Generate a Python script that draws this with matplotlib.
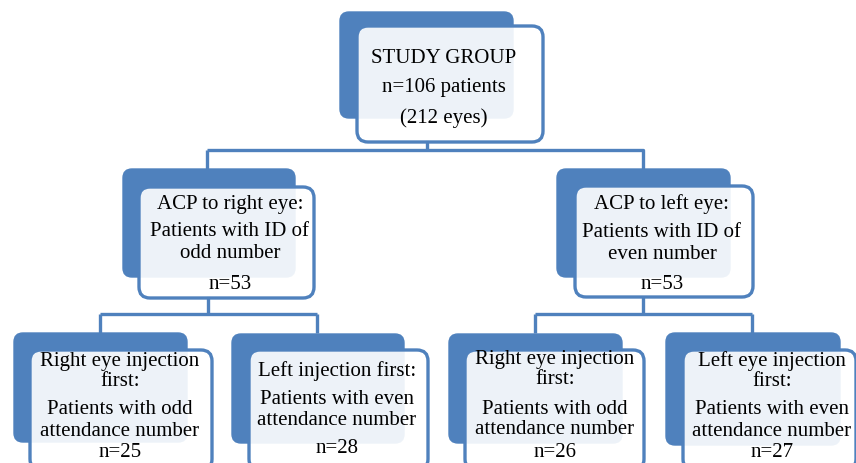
import matplotlib

matplotlib.use("AGG")
from matplotlib import pyplot
from matplotlib.patches import FancyBboxPatch

BLUE = "#4f81bd"

# node texts
top_lines = ["STUDY GROUP", "n=106 patients", "(212 eyes)"]
mid_left_lines = ["ACP to right eye:", "Patients with ID of", "odd number", "n=53"]
mid_right_lines = ["ACP to left eye:", "Patients with ID of", "even number", "n=53"]
bl_lines = ["Right eye injection", "first:", "Patients with odd", "attendance number", "n=25"]
bml_lines = ["Left injection first:", "Patients with even", "attendance number", "n=28"]
bmr_lines = ["Right eye injection", "first:", "Patients with odd", "attendance number", "n=26"]
br_lines = ["Left eye injection", "first:", "Patients with even", "attendance number", "n=27"]


def node(ax, back, front, lines, xc, baselines):
    bx0, by0, bx1, by1 = back
    fx0, fy0, fx1, fy1 = front
    ax.add_patch(FancyBboxPatch((bx0, by0), bx1 - bx0, by1 - by0,
                                boxstyle="round,pad=0,rounding_size=9",
                                fc=BLUE, ec=BLUE, lw=1, zorder=2))
    ax.add_patch(FancyBboxPatch((fx0, fy0), fx1 - fx0, fy1 - fy0,
                                boxstyle="round,pad=0,rounding_size=11",
                                fc=(1, 1, 1, 0.9), ec=BLUE, lw=2.4, zorder=3))
    for txt, yb in zip(lines, baselines):
        ax.text(xc, yb, txt, ha="center", va="baseline", fontsize=15,
                family="Liberation Serif", color="black", zorder=4)


def line(ax, xs, ys):
    ax.plot(xs, ys, color=BLUE, lw=2.4, solid_capstyle="butt", zorder=1)


f = pyplot.figure(figsize=(8.56, 4.63), dpi=100)
ax = f.add_axes([0, 0, 1, 1])
ax.set_xlim(0, 856)
ax.set_ylim(463, 0)
ax.axis("off")

# connectors
line(ax, [427, 427], [140, 150])
line(ax, [207, 643, 643], [150, 150, 169])
line(ax, [207, 207], [150, 169])
line(ax, [208, 208], [296, 314])
line(ax, [100, 317], [314, 314])
line(ax, [100, 100], [314, 333])
line(ax, [317, 317], [314, 333])
line(ax, [643, 643], [296, 314])
line(ax, [535, 752], [314, 314])
line(ax, [535, 535], [314, 333])
line(ax, [752, 752], [314, 333])

node(ax, (340, 12, 513, 118), (357, 26, 543, 142), top_lines, 444, [63, 92, 123])
node(ax, (123, 169, 295, 277), (139, 187, 314, 298), mid_left_lines, 230, [209, 236, 258, 289])
node(ax, (557, 169, 730, 277), (575, 186, 753, 297), mid_right_lines, 662, [209, 237, 259, 289])
node(ax, (14, 333, 187, 442), (30, 350, 212, 470), bl_lines, 120, [366, 386, 414, 436, 457])
node(ax, (232, 334, 404, 443), (249, 350, 428, 470), bml_lines, 337, [376, 404, 425, 453])
node(ax, (449, 334, 622, 443), (465, 350, 644, 470), bmr_lines, 555, [364, 384, 414, 434, 457])
node(ax, (666, 333, 840, 445), (683, 350, 856, 470), br_lines, 772, [366, 386, 414, 436, 457])

f.savefig("out.png", dpi=100)
pyplot.close()
